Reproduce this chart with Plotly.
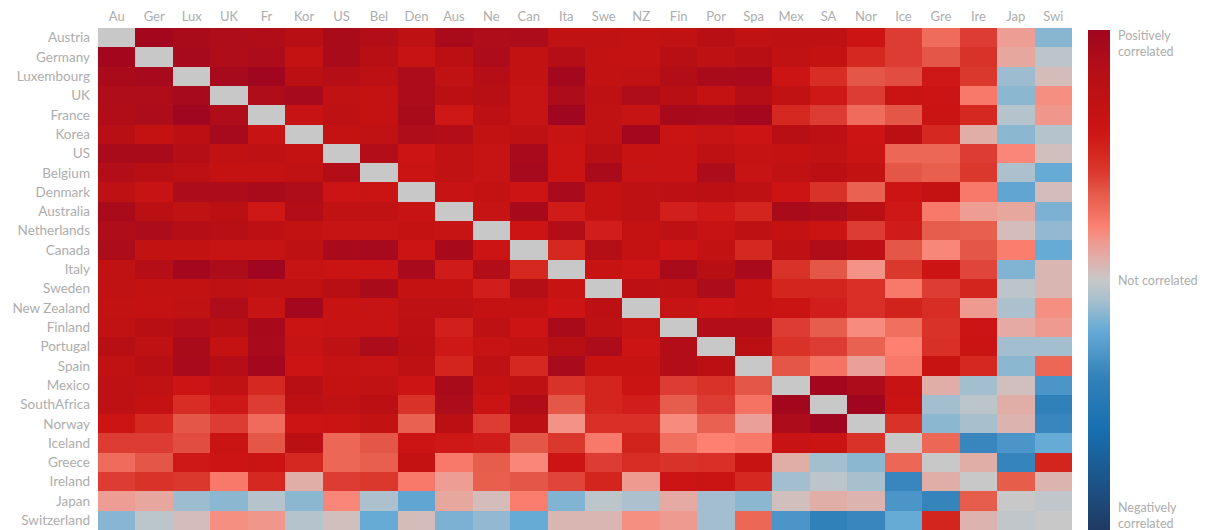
import plotly.graph_objects as go

row_labels = ["Austria","Germany","Luxembourg","UK","France","Korea","US","Belgium","Denmark","Australia","Netherlands","Canada","Italy","Sweden","New Zealand","Finland","Portugal","Spain","Mexico","SouthAfrica","Norway","Iceland","Greece","Ireland","Japan","Switzerland"]
col_labels = ["Au","Ger","Lux","UK","Fr","Kor","US","Bel","Den","Aus","Ne","Can","Ita","Swe","NZ","Fin","Por","Spa","Mex","SA","Nor","Ice","Gre","Ire","Jap","Swi"]

# upper triangle of the correlation table, each row starting right after its diagonal cell
austria = [.98,.92,.88,.87,.8,.92,.85,.75,.92,.88,.9,.72,.72,.7,.72,.8,.72,.74,.74,.6,.42,.28,.42,.14,-.14]
germany = [.95,.88,.9,.68,.92,.8,.65,.78,.9,.7,.82,.7,.68,.8,.74,.8,.72,.68,.5,.42,.36,.46,.11,-.03]
luxembourg = [.95,1.0,.78,.82,.76,.9,.72,.82,.7,.97,.7,.72,.85,.92,.93,.6,.48,.36,.38,.58,.44,-.1,.04]
uk = [.88,.95,.72,.68,.9,.78,.8,.66,.9,.74,.88,.8,.68,.82,.72,.58,.42,.62,.6,.24,-.13,.18]
france = [.65,.75,.68,.92,.58,.76,.66,1.0,.72,.66,.94,.93,.97,.5,.42,.28,.36,.62,.5,-.05,.16]
korea = [.68,.72,.88,.85,.7,.75,.66,.72,.97,.62,.66,.6,.8,.76,.6,.78,.5,.09,-.13,-.05]
us = [.85,.6,.72,.66,.93,.62,.8,.64,.65,.74,.67,.68,.72,.62,.3,.3,.42,.2,.03]
belgium = [.62,.72,.66,.95,.62,.92,.66,.65,.9,.66,.72,.78,.7,.36,.33,.44,-.07,-.2]
denmark = [.65,.68,.6,.93,.68,.74,.76,.78,.74,.6,.46,.32,.6,.68,.24,-.22,.04]
australia = [.66,.94,.56,.68,.74,.54,.58,.52,.92,.9,.78,.58,.24,.14,.11,-.16]
netherlands = [.6,.85,.55,.68,.74,.65,.74,.68,.62,.42,.56,.34,.33,.04,-.12]
canada = [.5,.84,.68,.6,.7,.5,.74,.86,.76,.36,.2,.36,.23,-.2]
italy = [.64,.6,.92,.8,.93,.46,.36,.17,.44,.6,.4,-.15,.06]
sweden = [.76,.74,.9,.64,.52,.52,.47,.24,.42,.52,-.03,.06]
new_zealand = [.66,.6,.64,.62,.55,.47,.53,.48,.15,-.07,.18]
finland = [.85,.85,.42,.34,.19,.27,.46,.6,.1,.15]
portugal = [.78,.46,.42,.32,.22,.47,.62,-.09,-.09]
spain = [.36,.26,.13,.24,.64,.5,-.13,.3]
mexico = [.98,.9,.65,.09,-.09,.03,-.3]
south_africa = [1.0,.62,-.09,-.03,.09,-.4]
norway = [.46,-.13,-.08,.07,-.37]
iceland = [.3,-.37,-.3,-.2]
greece = [.09,-.38,.52]
ireland = [.34,.07]
japan = [-.02]
upper_rows = [austria,germany,luxembourg,uk,france,korea,us,belgium,denmark,australia,netherlands,canada,italy,sweden,new_zealand,finland,portugal,spain,mexico,south_africa,norway,iceland,greece,ireland,japan]

n = len(row_labels)
z = [[0.0]*n for _ in range(n)]
for i, row in enumerate(upper_rows):
    for k, v in enumerate(row):
        z[i][i+1+k] = v
        z[i+1+k][i] = v

stops = [(-1,"#1f3a63"),(-.6,"#186fb0"),(-.4,"#3080b9"),(-.2,"#66aad6"),(-.08,"#a8c0ce"),(0,"#c8c8c8"),
         (.08,"#dfb0ab"),(.15,"#ef9a90"),(.22,"#fd8070"),(.28,"#ef6c5c"),(.35,"#e55a48"),(.42,"#dc3c32"),
         (.5,"#d52820"),(.6,"#cc1414"),(.7,"#c21212"),(.8,"#b80f15"),(.9,"#ad0c1a"),(1,"#a0061f")]
colorscale = [[(v+1)/2, c] for v, c in stops]

FONT = "Lato"
GREY = "#adadad"
fig = go.Figure(go.Heatmap(
    z=z, x=col_labels, y=row_labels, zmin=-1, zmax=1, colorscale=colorscale, xgap=0, ygap=0,
    colorbar=dict(
        lenmode="pixels", len=500, thicknessmode="pixels", thickness=22,
        x=1.0164, xanchor="left", xpad=0, y=0.996, yanchor="top", ypad=0,
        outlinewidth=0, ticks="", showticklabels=False,
    ),
))
fig.update_xaxes(side="top", tickangle=0, showgrid=False, zeroline=False, ticks="", showline=False,
                 ticklabelstandoff=3, tickfont=dict(family=FONT, size=13, color=GREY))
fig.update_yaxes(autorange="reversed", showgrid=False, zeroline=False, ticks="", showline=False,
                 ticklabelstandoff=7, tickfont=dict(family=FONT, size=13.5, color=GREY))

bar_notes = [("Positively<br>correlated", 44), ("Not correlated", 280), ("Negatively<br>correlated", 515)]
for text, py in bar_notes:
    fig.add_annotation(text=text, x=(1116-98)/974, xref="paper", xanchor="left", align="left",
                       y=(530-py)/502, yref="paper", yanchor="middle", showarrow=False,
                       font=dict(family=FONT, size=12.5, color=GREY))
fig.update_layout(width=1207, height=530, margin=dict(l=98, r=135, t=28, b=0),
                  paper_bgcolor="white", plot_bgcolor="white")
fig.write_html("out.html", config={"displayModeBar": False},
               post_script="document.body.style.margin='0';document.body.style.overflow='hidden';")
